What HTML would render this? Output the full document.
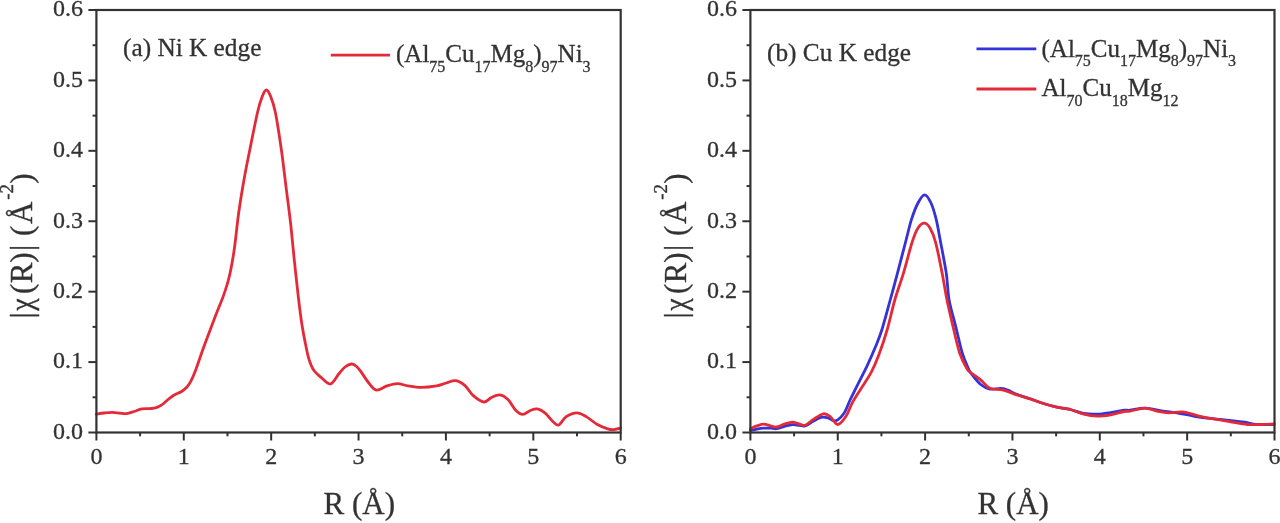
<!DOCTYPE html>
<html><head><meta charset="utf-8"><style>
html,body{margin:0;padding:0;background:#fff;width:1280px;height:523px;overflow:hidden;}
svg{display:block;}
text{font-family:"Liberation Serif",serif;stroke:#333;stroke-width:0.3px;}
</style></head><body>
<svg width="1280" height="523" viewBox="0 0 1280 523">
<defs><filter id="b" x="-5%" y="-5%" width="110%" height="110%"><feGaussianBlur stdDeviation="0.7"/></filter></defs>
<rect width="1280" height="523" fill="#fff"/>
<g filter="url(#b)">
<path d="M96.40,414.20 C97.67,414.00 101.35,413.32 104.00,413.00 C106.65,412.68 109.63,412.27 112.30,412.30 C114.97,412.33 117.62,412.98 120.00,413.20 C122.38,413.42 124.27,413.88 126.60,413.60 C128.93,413.32 131.45,412.30 134.00,411.50 C136.55,410.70 139.00,409.30 141.90,408.80 C144.80,408.30 149.02,408.70 151.40,408.50 C153.78,408.30 154.55,408.15 156.20,407.60 C157.85,407.05 159.50,406.38 161.30,405.20 C163.10,404.02 164.98,402.12 167.00,400.50 C169.02,398.88 170.90,397.05 173.40,395.50 C175.90,393.95 179.73,392.62 182.00,391.20 C184.27,389.78 185.57,388.58 187.00,387.00 C188.43,385.42 189.28,384.18 190.60,381.70 C191.92,379.22 192.60,378.17 194.90,372.10 C197.20,366.03 200.90,354.87 204.40,345.30 C207.90,335.73 212.72,322.98 215.90,314.70 C219.08,306.42 221.27,301.97 223.50,295.60 C225.73,289.23 227.52,284.15 229.30,276.50 C231.08,268.85 232.62,260.45 234.20,249.70 C235.78,238.95 237.10,224.05 238.80,212.00 C240.50,199.95 242.40,188.58 244.40,177.40 C246.40,166.22 248.60,155.80 250.80,144.90 C253.00,134.00 255.67,120.15 257.60,112.00 C259.53,103.85 260.95,99.67 262.40,96.00 C263.85,92.33 264.95,90.00 266.30,90.00 C267.65,90.00 268.98,92.25 270.50,96.00 C272.02,99.75 273.58,103.50 275.40,112.50 C277.22,121.50 279.63,137.63 281.40,150.00 C283.17,162.37 284.47,174.47 286.00,186.70 C287.53,198.93 289.22,211.17 290.60,223.40 C291.98,235.63 293.02,247.87 294.30,260.10 C295.58,272.33 297.02,285.98 298.30,296.80 C299.58,307.62 300.80,317.13 302.00,325.00 C303.20,332.87 304.33,338.28 305.50,344.00 C306.67,349.72 307.65,354.97 309.00,359.30 C310.35,363.63 311.55,366.95 313.60,370.00 C315.65,373.05 318.48,375.27 321.30,377.60 C324.12,379.93 327.53,384.68 330.50,384.00 C333.47,383.32 336.68,376.33 339.10,373.50 C341.52,370.67 342.93,368.58 345.00,367.00 C347.07,365.42 349.67,364.17 351.50,364.00 C353.33,363.83 354.55,364.90 356.00,366.00 C357.45,367.10 358.07,367.77 360.20,370.60 C362.33,373.43 366.10,379.75 368.80,383.00 C371.50,386.25 373.38,389.62 376.40,390.10 C379.42,390.58 383.40,386.98 386.90,385.90 C390.40,384.82 393.88,383.60 397.40,383.60 C400.92,383.60 404.02,385.27 408.00,385.90 C411.98,386.53 416.53,387.40 421.30,387.40 C426.07,387.40 432.45,386.63 436.60,385.90 C440.75,385.17 443.00,383.87 446.20,383.00 C449.40,382.13 452.62,380.22 455.80,380.70 C458.98,381.18 462.43,383.45 465.30,385.90 C468.17,388.35 469.92,392.72 473.00,395.40 C476.08,398.08 480.73,401.65 483.80,402.00 C486.87,402.35 488.73,398.68 491.40,397.50 C494.07,396.32 497.00,394.52 499.80,394.90 C502.60,395.28 505.52,397.20 508.20,399.80 C510.88,402.40 513.47,408.08 515.90,410.50 C518.33,412.92 520.38,414.30 522.80,414.30 C525.22,414.30 527.98,411.40 530.40,410.50 C532.82,409.60 534.88,408.52 537.30,408.90 C539.72,409.28 542.35,410.75 544.90,412.80 C547.45,414.85 550.30,419.17 552.60,421.20 C554.90,423.23 556.42,425.77 558.70,425.00 C560.98,424.23 563.25,418.63 566.30,416.60 C569.35,414.57 573.68,412.80 577.00,412.80 C580.32,412.80 582.88,414.70 586.20,416.60 C589.52,418.50 593.33,422.17 596.90,424.20 C600.47,426.23 604.80,427.90 607.60,428.80 C610.40,429.70 611.53,429.73 613.70,429.60 C615.87,429.47 619.45,428.27 620.60,428.00" fill="none" stroke="#e42a38" stroke-width="2.8" stroke-linejoin="round" stroke-linecap="round"/>
<rect x="96.40" y="10.00" width="524.30" height="422.50" fill="none" stroke="#333" stroke-width="2.2"/>
<line x1="88.40" y1="432.50" x2="96.40" y2="432.50" stroke="#333" stroke-width="2"/>
<text x="83.10" y="438.80" text-anchor="end" font-size="24" font-family="Liberation Serif, serif" fill="#333">0.0</text>
<line x1="92.60" y1="397.29" x2="96.40" y2="397.29" stroke="#333" stroke-width="2"/>
<line x1="88.40" y1="362.08" x2="96.40" y2="362.08" stroke="#333" stroke-width="2"/>
<text x="83.10" y="368.38" text-anchor="end" font-size="24" font-family="Liberation Serif, serif" fill="#333">0.1</text>
<line x1="92.60" y1="326.88" x2="96.40" y2="326.88" stroke="#333" stroke-width="2"/>
<line x1="88.40" y1="291.67" x2="96.40" y2="291.67" stroke="#333" stroke-width="2"/>
<text x="83.10" y="297.97" text-anchor="end" font-size="24" font-family="Liberation Serif, serif" fill="#333">0.2</text>
<line x1="92.60" y1="256.46" x2="96.40" y2="256.46" stroke="#333" stroke-width="2"/>
<line x1="88.40" y1="221.25" x2="96.40" y2="221.25" stroke="#333" stroke-width="2"/>
<text x="83.10" y="227.55" text-anchor="end" font-size="24" font-family="Liberation Serif, serif" fill="#333">0.3</text>
<line x1="92.60" y1="186.04" x2="96.40" y2="186.04" stroke="#333" stroke-width="2"/>
<line x1="88.40" y1="150.83" x2="96.40" y2="150.83" stroke="#333" stroke-width="2"/>
<text x="83.10" y="157.13" text-anchor="end" font-size="24" font-family="Liberation Serif, serif" fill="#333">0.4</text>
<line x1="92.60" y1="115.62" x2="96.40" y2="115.62" stroke="#333" stroke-width="2"/>
<line x1="88.40" y1="80.42" x2="96.40" y2="80.42" stroke="#333" stroke-width="2"/>
<text x="83.10" y="86.72" text-anchor="end" font-size="24" font-family="Liberation Serif, serif" fill="#333">0.5</text>
<line x1="92.60" y1="45.21" x2="96.40" y2="45.21" stroke="#333" stroke-width="2"/>
<line x1="88.40" y1="10.00" x2="96.40" y2="10.00" stroke="#333" stroke-width="2"/>
<text x="83.10" y="16.30" text-anchor="end" font-size="24" font-family="Liberation Serif, serif" fill="#333">0.6</text>
<line x1="96.40" y1="432.50" x2="96.40" y2="440.50" stroke="#333" stroke-width="2"/>
<text x="96.40" y="464.30" text-anchor="middle" font-size="24" font-family="Liberation Serif, serif" fill="#333">0</text>
<line x1="140.09" y1="432.50" x2="140.09" y2="436.30" stroke="#333" stroke-width="2"/>
<line x1="183.78" y1="432.50" x2="183.78" y2="440.50" stroke="#333" stroke-width="2"/>
<text x="183.78" y="464.30" text-anchor="middle" font-size="24" font-family="Liberation Serif, serif" fill="#333">1</text>
<line x1="227.48" y1="432.50" x2="227.48" y2="436.30" stroke="#333" stroke-width="2"/>
<line x1="271.17" y1="432.50" x2="271.17" y2="440.50" stroke="#333" stroke-width="2"/>
<text x="271.17" y="464.30" text-anchor="middle" font-size="24" font-family="Liberation Serif, serif" fill="#333">2</text>
<line x1="314.86" y1="432.50" x2="314.86" y2="436.30" stroke="#333" stroke-width="2"/>
<line x1="358.55" y1="432.50" x2="358.55" y2="440.50" stroke="#333" stroke-width="2"/>
<text x="358.55" y="464.30" text-anchor="middle" font-size="24" font-family="Liberation Serif, serif" fill="#333">3</text>
<line x1="402.24" y1="432.50" x2="402.24" y2="436.30" stroke="#333" stroke-width="2"/>
<line x1="445.93" y1="432.50" x2="445.93" y2="440.50" stroke="#333" stroke-width="2"/>
<text x="445.93" y="464.30" text-anchor="middle" font-size="24" font-family="Liberation Serif, serif" fill="#333">4</text>
<line x1="489.62" y1="432.50" x2="489.62" y2="436.30" stroke="#333" stroke-width="2"/>
<line x1="533.32" y1="432.50" x2="533.32" y2="440.50" stroke="#333" stroke-width="2"/>
<text x="533.32" y="464.30" text-anchor="middle" font-size="24" font-family="Liberation Serif, serif" fill="#333">5</text>
<line x1="577.01" y1="432.50" x2="577.01" y2="436.30" stroke="#333" stroke-width="2"/>
<line x1="620.70" y1="432.50" x2="620.70" y2="440.50" stroke="#333" stroke-width="2"/>
<text x="620.70" y="464.30" text-anchor="middle" font-size="24" font-family="Liberation Serif, serif" fill="#333">6</text>
<text x="359.25" y="514" text-anchor="middle" font-size="31" font-family="Liberation Serif, serif" fill="#333">R (Å)</text>
<g transform="translate(32.00,0) rotate(-90)" font-size="31" text-anchor="middle" fill="#333" font-family="Liberation Serif, serif"><text x="-315.50" y="0.00">|</text><text x="-304.60" y="0.00" transform="translate(-304.60,0) scale(0.9,1) translate(304.60,0)">χ</text><text x="-288.80" y="0.00">(</text><text x="-272.80" y="0.00">R</text><text x="-257.70" y="0.00">)</text><text x="-248.00" y="0.00">|</text><text x="-230.80" y="0.00">(</text><text x="-212.80" y="0.00">Å</text><text x="-196.70" y="-18.60" font-size="19">-</text><text x="-188.70" y="-18.60" font-size="19">2</text><text x="-178.70" y="0.00">)</text></g>
<text x="123.00" y="56.00" font-size="25.3" font-family="Liberation Serif, serif" fill="#333">(a) Ni K edge</text>
<line x1="330.80" y1="55.20" x2="390.00" y2="55.20" stroke="#e42a38" stroke-width="2.8"/>
<text x="396.00" y="62.20" font-size="25" font-family="Liberation Serif, serif" fill="#333"><tspan dy="0">(Al</tspan><tspan font-size="16" dy="9.5">75</tspan><tspan dy="-9.5">Cu</tspan><tspan font-size="16" dy="9.5">17</tspan><tspan dy="-9.5">Mg</tspan><tspan font-size="16" dy="9.5">8</tspan><tspan dy="-9.5">)</tspan><tspan font-size="16" dy="9.5">97</tspan><tspan dy="-9.5">Ni</tspan><tspan font-size="16" dy="9.5">3</tspan></text>
<path d="M750.40,430.50 C751.48,430.27 754.67,429.48 756.90,429.10 C759.13,428.72 761.52,428.35 763.80,428.20 C766.08,428.05 768.50,428.12 770.60,428.20 C772.70,428.28 774.10,429.00 776.40,428.70 C778.70,428.40 781.73,427.07 784.40,426.40 C787.07,425.73 789.92,424.88 792.40,424.70 C794.88,424.52 797.20,425.10 799.30,425.30 C801.40,425.50 802.70,426.57 805.00,425.90 C807.30,425.23 810.42,422.73 813.10,421.30 C815.78,419.87 818.62,417.88 821.10,417.30 C823.58,416.72 825.60,417.22 828.00,417.80 C830.40,418.38 832.83,421.57 835.50,420.80 C838.17,420.03 841.53,416.75 844.00,413.20 C846.47,409.65 847.85,404.60 850.30,399.50 C852.75,394.40 855.90,388.22 858.70,382.60 C861.50,376.98 864.30,371.77 867.10,365.80 C869.90,359.83 873.05,352.77 875.50,346.80 C877.95,340.83 879.35,337.80 881.80,330.00 C884.25,322.20 887.60,309.43 890.20,300.00 C892.80,290.57 894.75,283.40 897.40,273.40 C900.05,263.40 903.75,249.00 906.10,240.00 C908.45,231.00 909.52,225.57 911.50,219.40 C913.48,213.23 915.82,207.10 918.00,203.00 C920.18,198.90 922.43,194.80 924.60,194.80 C926.77,194.80 929.07,198.90 931.00,203.00 C932.93,207.10 934.67,213.23 936.20,219.40 C937.73,225.57 938.52,231.00 940.20,240.00 C941.88,249.00 944.82,263.40 946.30,273.40 C947.78,283.40 947.52,291.10 949.10,300.00 C950.68,308.90 953.58,317.88 955.80,326.80 C958.02,335.72 960.28,346.48 962.40,353.50 C964.52,360.52 966.98,365.52 968.50,368.90 C970.02,372.28 969.47,371.20 971.50,373.80 C973.53,376.40 977.63,381.97 980.70,384.50 C983.77,387.03 986.12,388.30 989.90,389.00 C993.68,389.70 998.92,387.82 1003.40,388.70 C1007.88,389.58 1012.33,392.62 1016.80,394.30 C1021.27,395.98 1025.75,397.27 1030.20,398.80 C1034.65,400.33 1039.05,402.10 1043.50,403.50 C1047.95,404.90 1052.43,406.20 1056.90,407.20 C1061.37,408.20 1065.83,408.45 1070.30,409.50 C1074.77,410.55 1079.23,412.72 1083.70,413.50 C1088.17,414.28 1092.63,414.35 1097.10,414.20 C1101.57,414.05 1106.03,413.27 1110.50,412.60 C1114.97,411.93 1120.65,410.60 1123.90,410.20 C1127.15,409.80 1126.45,410.55 1130.00,410.20 C1133.55,409.85 1139.73,407.95 1145.20,408.10 C1150.67,408.25 1157.52,410.32 1162.80,411.10 C1168.08,411.88 1171.62,411.93 1176.90,412.80 C1182.18,413.67 1188.65,415.32 1194.50,416.30 C1200.35,417.28 1206.15,418.02 1212.00,418.70 C1217.85,419.38 1224.12,419.82 1229.60,420.40 C1235.08,420.98 1240.40,421.52 1244.90,422.20 C1249.40,422.88 1251.72,424.12 1256.60,424.50 C1261.48,424.88 1271.27,424.50 1274.20,424.50" fill="none" stroke="#3430d8" stroke-width="2.8" stroke-linejoin="round" stroke-linecap="round"/>
<path d="M750.40,428.70 C751.48,428.23 754.67,426.65 756.90,425.90 C759.13,425.15 761.52,424.20 763.80,424.20 C766.08,424.20 768.50,425.43 770.60,425.90 C772.70,426.37 774.10,427.28 776.40,427.00 C778.70,426.72 781.73,425.00 784.40,424.20 C787.07,423.40 790.10,422.30 792.40,422.20 C794.70,422.10 796.10,423.08 798.20,423.60 C800.30,424.12 802.52,425.97 805.00,425.30 C807.48,424.63 810.03,421.52 813.10,419.60 C816.17,417.68 820.53,414.28 823.40,413.80 C826.27,413.32 827.90,414.92 830.30,416.70 C832.70,418.48 835.18,424.57 837.80,424.50 C840.42,424.43 843.57,419.95 846.00,416.30 C848.43,412.65 849.93,407.15 852.40,402.60 C854.87,398.05 857.65,394.08 860.80,389.00 C863.95,383.92 868.32,377.72 871.30,372.10 C874.28,366.48 876.07,362.32 878.70,355.30 C881.33,348.28 884.42,339.22 887.10,330.00 C889.78,320.78 892.08,309.43 894.80,300.00 C897.52,290.57 900.52,283.02 903.40,273.40 C906.28,263.78 909.67,249.87 912.10,242.30 C914.53,234.73 915.97,231.20 918.00,228.00 C920.03,224.80 922.30,223.10 924.30,223.10 C926.30,223.10 928.12,224.80 930.00,228.00 C931.88,231.20 933.57,234.73 935.60,242.30 C937.63,249.87 940.30,263.78 942.20,273.40 C944.10,283.02 945.18,291.10 947.00,300.00 C948.82,308.90 950.97,317.88 953.10,326.80 C955.23,335.72 957.47,346.48 959.80,353.50 C962.13,360.52 965.40,365.82 967.10,368.90 C968.80,371.98 967.73,370.17 970.00,372.00 C972.27,373.83 977.38,377.18 980.70,379.90 C984.02,382.62 986.12,386.60 989.90,388.30 C993.68,390.00 998.92,389.02 1003.40,390.10 C1007.88,391.18 1012.33,393.35 1016.80,394.80 C1021.27,396.25 1025.75,397.35 1030.20,398.80 C1034.65,400.25 1039.05,402.10 1043.50,403.50 C1047.95,404.90 1052.43,406.20 1056.90,407.20 C1061.37,408.20 1065.83,408.33 1070.30,409.50 C1074.77,410.67 1079.23,413.08 1083.70,414.20 C1088.17,415.32 1092.63,416.10 1097.10,416.20 C1101.57,416.30 1106.03,415.58 1110.50,414.80 C1114.97,414.02 1120.65,412.12 1123.90,411.50 C1127.15,410.88 1126.45,411.67 1130.00,411.10 C1133.55,410.53 1140.70,408.10 1145.20,408.10 C1149.70,408.10 1153.08,410.32 1157.00,411.10 C1160.92,411.88 1164.40,412.67 1168.70,412.80 C1173.00,412.93 1177.92,411.40 1182.80,411.90 C1187.68,412.40 1193.12,414.67 1198.00,415.80 C1202.88,416.93 1206.83,417.73 1212.10,418.70 C1217.37,419.67 1223.75,420.63 1229.60,421.60 C1235.45,422.57 1242.32,424.02 1247.20,424.50 C1252.08,424.98 1254.40,424.58 1258.90,424.50 C1263.40,424.42 1271.65,424.08 1274.20,424.00" fill="none" stroke="#e42a38" stroke-width="2.8" stroke-linejoin="round" stroke-linecap="round"/>
<rect x="750.40" y="10.00" width="524.10" height="422.50" fill="none" stroke="#333" stroke-width="2.2"/>
<line x1="742.40" y1="432.50" x2="750.40" y2="432.50" stroke="#333" stroke-width="2"/>
<text x="737.10" y="438.80" text-anchor="end" font-size="24" font-family="Liberation Serif, serif" fill="#333">0.0</text>
<line x1="746.60" y1="397.29" x2="750.40" y2="397.29" stroke="#333" stroke-width="2"/>
<line x1="742.40" y1="362.08" x2="750.40" y2="362.08" stroke="#333" stroke-width="2"/>
<text x="737.10" y="368.38" text-anchor="end" font-size="24" font-family="Liberation Serif, serif" fill="#333">0.1</text>
<line x1="746.60" y1="326.88" x2="750.40" y2="326.88" stroke="#333" stroke-width="2"/>
<line x1="742.40" y1="291.67" x2="750.40" y2="291.67" stroke="#333" stroke-width="2"/>
<text x="737.10" y="297.97" text-anchor="end" font-size="24" font-family="Liberation Serif, serif" fill="#333">0.2</text>
<line x1="746.60" y1="256.46" x2="750.40" y2="256.46" stroke="#333" stroke-width="2"/>
<line x1="742.40" y1="221.25" x2="750.40" y2="221.25" stroke="#333" stroke-width="2"/>
<text x="737.10" y="227.55" text-anchor="end" font-size="24" font-family="Liberation Serif, serif" fill="#333">0.3</text>
<line x1="746.60" y1="186.04" x2="750.40" y2="186.04" stroke="#333" stroke-width="2"/>
<line x1="742.40" y1="150.83" x2="750.40" y2="150.83" stroke="#333" stroke-width="2"/>
<text x="737.10" y="157.13" text-anchor="end" font-size="24" font-family="Liberation Serif, serif" fill="#333">0.4</text>
<line x1="746.60" y1="115.62" x2="750.40" y2="115.62" stroke="#333" stroke-width="2"/>
<line x1="742.40" y1="80.42" x2="750.40" y2="80.42" stroke="#333" stroke-width="2"/>
<text x="737.10" y="86.72" text-anchor="end" font-size="24" font-family="Liberation Serif, serif" fill="#333">0.5</text>
<line x1="746.60" y1="45.21" x2="750.40" y2="45.21" stroke="#333" stroke-width="2"/>
<line x1="742.40" y1="10.00" x2="750.40" y2="10.00" stroke="#333" stroke-width="2"/>
<text x="737.10" y="16.30" text-anchor="end" font-size="24" font-family="Liberation Serif, serif" fill="#333">0.6</text>
<line x1="750.40" y1="432.50" x2="750.40" y2="440.50" stroke="#333" stroke-width="2"/>
<text x="750.40" y="464.30" text-anchor="middle" font-size="24" font-family="Liberation Serif, serif" fill="#333">0</text>
<line x1="794.07" y1="432.50" x2="794.07" y2="436.30" stroke="#333" stroke-width="2"/>
<line x1="837.75" y1="432.50" x2="837.75" y2="440.50" stroke="#333" stroke-width="2"/>
<text x="837.75" y="464.30" text-anchor="middle" font-size="24" font-family="Liberation Serif, serif" fill="#333">1</text>
<line x1="881.42" y1="432.50" x2="881.42" y2="436.30" stroke="#333" stroke-width="2"/>
<line x1="925.10" y1="432.50" x2="925.10" y2="440.50" stroke="#333" stroke-width="2"/>
<text x="925.10" y="464.30" text-anchor="middle" font-size="24" font-family="Liberation Serif, serif" fill="#333">2</text>
<line x1="968.77" y1="432.50" x2="968.77" y2="436.30" stroke="#333" stroke-width="2"/>
<line x1="1012.45" y1="432.50" x2="1012.45" y2="440.50" stroke="#333" stroke-width="2"/>
<text x="1012.45" y="464.30" text-anchor="middle" font-size="24" font-family="Liberation Serif, serif" fill="#333">3</text>
<line x1="1056.12" y1="432.50" x2="1056.12" y2="436.30" stroke="#333" stroke-width="2"/>
<line x1="1099.80" y1="432.50" x2="1099.80" y2="440.50" stroke="#333" stroke-width="2"/>
<text x="1099.80" y="464.30" text-anchor="middle" font-size="24" font-family="Liberation Serif, serif" fill="#333">4</text>
<line x1="1143.47" y1="432.50" x2="1143.47" y2="436.30" stroke="#333" stroke-width="2"/>
<line x1="1187.15" y1="432.50" x2="1187.15" y2="440.50" stroke="#333" stroke-width="2"/>
<text x="1187.15" y="464.30" text-anchor="middle" font-size="24" font-family="Liberation Serif, serif" fill="#333">5</text>
<line x1="1230.83" y1="432.50" x2="1230.83" y2="436.30" stroke="#333" stroke-width="2"/>
<line x1="1274.50" y1="432.50" x2="1274.50" y2="440.50" stroke="#333" stroke-width="2"/>
<text x="1274.50" y="464.30" text-anchor="middle" font-size="24" font-family="Liberation Serif, serif" fill="#333">6</text>
<text x="1013.15" y="514" text-anchor="middle" font-size="31" font-family="Liberation Serif, serif" fill="#333">R (Å)</text>
<g transform="translate(686.00,0) rotate(-90)" font-size="31" text-anchor="middle" fill="#333" font-family="Liberation Serif, serif"><text x="-315.50" y="0.00">|</text><text x="-304.60" y="0.00" transform="translate(-304.60,0) scale(0.9,1) translate(304.60,0)">χ</text><text x="-288.80" y="0.00">(</text><text x="-272.80" y="0.00">R</text><text x="-257.70" y="0.00">)</text><text x="-248.00" y="0.00">|</text><text x="-230.80" y="0.00">(</text><text x="-212.80" y="0.00">Å</text><text x="-196.70" y="-18.60" font-size="19">-</text><text x="-188.70" y="-18.60" font-size="19">2</text><text x="-178.70" y="0.00">)</text></g>
<text x="767.00" y="61.00" font-size="25.3" font-family="Liberation Serif, serif" fill="#333">(b) Cu K edge</text>
<line x1="976.50" y1="48.90" x2="1036.30" y2="48.90" stroke="#3430d8" stroke-width="2.8"/>
<text x="1041.50" y="56.50" font-size="25" font-family="Liberation Serif, serif" fill="#333"><tspan dy="0">(Al</tspan><tspan font-size="16" dy="9.5">75</tspan><tspan dy="-9.5">Cu</tspan><tspan font-size="16" dy="9.5">17</tspan><tspan dy="-9.5">Mg</tspan><tspan font-size="16" dy="9.5">8</tspan><tspan dy="-9.5">)</tspan><tspan font-size="16" dy="9.5">97</tspan><tspan dy="-9.5">Ni</tspan><tspan font-size="16" dy="9.5">3</tspan></text>
<line x1="976.50" y1="89.00" x2="1036.30" y2="89.00" stroke="#e42a38" stroke-width="2.8"/>
<text x="1041.50" y="96.40" font-size="25" font-family="Liberation Serif, serif" fill="#333"><tspan dy="0">Al</tspan><tspan font-size="16" dy="9.5">70</tspan><tspan dy="-9.5">Cu</tspan><tspan font-size="16" dy="9.5">18</tspan><tspan dy="-9.5">Mg</tspan><tspan font-size="16" dy="9.5">12</tspan></text>
</g>
</svg>
</body></html>
